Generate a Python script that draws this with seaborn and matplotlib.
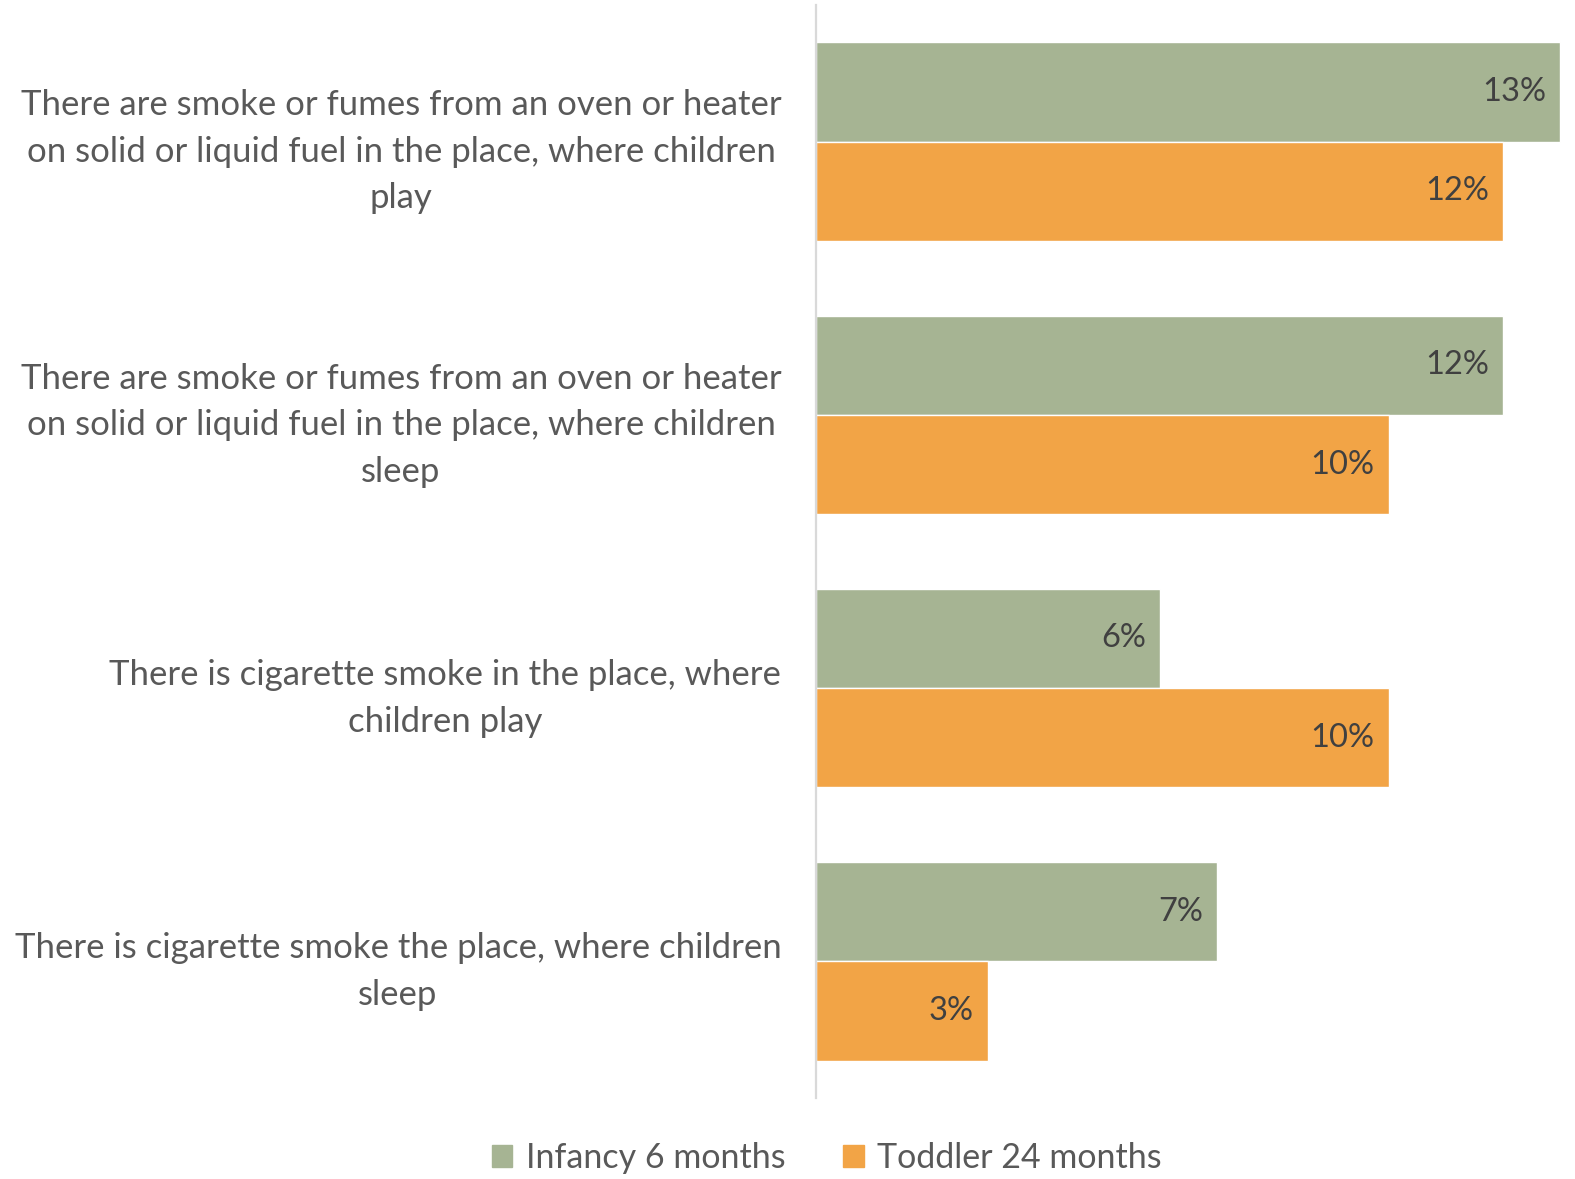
import pandas as pd
import numpy as np
import matplotlib
matplotlib.use('Agg')
import matplotlib.pyplot as plt
import seaborn as sns

# categories (top to bottom) and values in percent
categories = [
    'There are smoke or fumes from an oven or heater\non solid or liquid fuel in the place, where children\nplay',
    'There are smoke or fumes from an oven or heater\non solid or liquid fuel in the place, where children\nsleep',
    'There is cigarette smoke in the place, where\nchildren play',
    'There is cigarette smoke the place, where children\nsleep',
]
series_names = ['Infancy 6 months', 'Toddler 24 months']
infancy = [13, 12, 6, 7]
toddler = [12, 10, 10, 3]

colors = ['#A6B493', '#F2A446']

df = pd.DataFrame({
    'category': categories * 2,
    'group': [series_names[0]] * 4 + [series_names[1]] * 4,
    'value': infancy + toddler,
})

sns.set_style('white')
plt.rcParams['font.family'] = ['Lato', 'DejaVu Sans']

fig = plt.figure(figsize=(15.75, 11.79), dpi=100)
ax = fig.add_axes([816 / 1575, 1 - 1098 / 1179, 746 / 1575, 1093 / 1179])

sns.barplot(data=df, y='category', x='value', hue='group', orient='h',
            palette=colors, width=0.727, saturation=1, ax=ax, legend=False)

ax.set_xlim(0, 13.03)
ax.set_ylim(3.5, -0.5)
ax.set_xlabel('')
ax.set_ylabel('')
ax.set_xticks([])

for sp in ['top', 'right', 'bottom']:
    ax.spines[sp].set_visible(False)
ax.spines['left'].set_color('#D9D9D9')
ax.spines['left'].set_linewidth(1.6)

ax.tick_params(axis='y', length=0, pad=25, labelsize=25, labelcolor='#595959')
for t in ax.get_yticklabels():
    t.set_multialignment('center')
    t.set_linespacing(1.56)

# value labels inside bar ends
for cont, vals in zip(ax.containers, [infancy, toddler]):
    texts = ax.bar_label(cont, labels=[f'{v}%' for v in vals], padding=-10,
                         fontsize=23.5, color='#404040')
    for t in texts:
        t.set_ha('right')

handles = [plt.Rectangle((0, 0), 1, 1, color=c) for c in colors]
fig.legend(handles, series_names, loc='center', bbox_to_anchor=(827 / 1575, 1 - 1158 / 1179),
           ncol=2, frameon=False, fontsize=24.5, labelcolor='#595959',
           handlelength=0.6, handleheight=0.6, handletextpad=0.4, columnspacing=1.7)

fig.savefig('out.png', dpi=100)
